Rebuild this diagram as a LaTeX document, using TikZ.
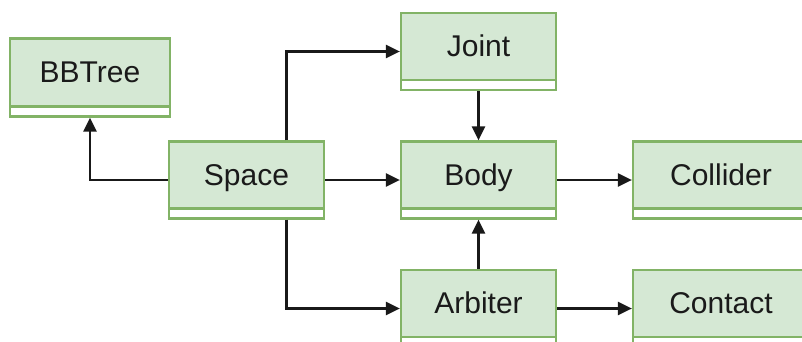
\documentclass[tikz,border=0pt]{standalone}
\usepackage{fontspec}
\setmainfont{Liberation Sans}
\usetikzlibrary{arrows.meta}
\definecolor{boxfill}{HTML}{D5E8D4}
\definecolor{boxline}{HTML}{82B366}
\definecolor{txt}{HTML}{1A1A1A}
\tikzset{
  classbox/.style={draw=boxline, line width=2.2pt, fill=white, inner sep=0pt,
    minimum width=155pt, minimum height=77pt, text=txt,
    font=\fontsize{30}{35}\selectfont, text height=20pt, text depth=9.2pt,
    path picture={
      \fill[boxfill] (path picture bounding box.north west) rectangle ([yshift=10pt]path picture bounding box.south east);
      \draw[boxline, line width=2.2pt] ([yshift=10pt]path picture bounding box.south west) -- ([yshift=10pt]path picture bounding box.south east);
    }},
  conn/.style={draw=black!90, line width=2.5pt, -{Triangle[length=14pt,width=13pt]}}
}
\begin{document}
\begin{tikzpicture}[x=1pt,y=-1pt]
\useasboundingbox (0,0) rectangle (802,342);
\clip (0,0) rectangle (802,342);
\node[classbox, minimum width=160pt, minimum height=78pt] (bbtree) at (90,77.5) {BBTree};
\node[classbox] (space) at (246.5,180) {Space};
\node[classbox] (joint) at (478.5,51.5) {Joint};
\node[classbox] (body) at (478.5,180) {Body};
\node[classbox] (arbiter) at (478.5,308.5) {Arbiter};
\node[classbox, minimum width=176pt] (collider) at (721,180) {Collider};
\node[classbox, minimum width=176pt] (contact) at (721,308.5) {Contact};
\draw[conn] (space.west) -| (bbtree.south);
\draw[conn] ([xshift=40pt]space.north) |- (joint.west);
\draw[conn] ([xshift=40pt]space.south) |- (arbiter.west);
\draw[conn] (space.east) -- (body.west);
\draw[conn] (joint.south) -- (body.north);
\draw[conn] (arbiter.north) -- (body.south);
\draw[conn] (body.east) -- (collider.west);
\draw[conn] (arbiter.east) -- (contact.west);
\end{tikzpicture}
\end{document}
